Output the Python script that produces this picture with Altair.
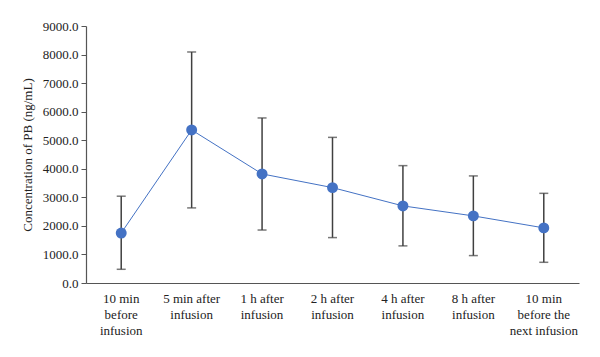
import altair as alt
import pandas as pd

categories = [
    "10 min|before|infusion",
    "5 min after|infusion",
    "1 h after|infusion",
    "2 h after|infusion",
    "4 h after|infusion",
    "8 h after|infusion",
    "10 min|before the|next infusion",
]
means = [1750, 5360, 3820, 3340, 2700, 2350, 1930]
upper = [3040, 8090, 5780, 5100, 4110, 3750, 3140]
lower = [480, 2630, 1855, 1590, 1300, 960, 725]
y_ticks = [0, 1000, 2000, 3000, 4000, 5000, 6000, 7000, 8000, 9000]

df = pd.DataFrame({"cat": categories, "mean": means, "hi": upper, "lo": lower})

font = "Liberation Serif"
xscale = alt.Scale(paddingInner=0, paddingOuter=0)
yscale = alt.Scale(domain=[0, 9000], nice=False)

x_axis = alt.Axis(labelAngle=0, ticks=False,
                  labelExpr="split(datum.label, '|')",
                  labelPadding=9, labelLineHeight=16, labelLimit=0,
                  labelOverlap=False, labelFont=font, labelFontSize=13,
                  labelColor="#222222", domainColor="#555555", domainWidth=1.2)
y_axis = alt.Axis(values=y_ticks, format=".1f", grid=False,
                  labelOverlap=False, tickSize=5, labelFont=font, labelFontSize=13,
                  labelColor="#222222", domainColor="#555555", tickColor="#555555",
                  domainWidth=1.2, labelPadding=3,
                  title="Concentration of PB (ng/mL)", titlePadding=8,
                  titleFont=font, titleFontSize=13, titleFontWeight="normal",
                  titleColor="#222222")

X = alt.X("cat:N", sort=categories, title=None, scale=xscale, axis=x_axis)

def Y(field):
    return alt.Y(field, type="quantitative", scale=yscale, axis=y_axis,
                 title="Concentration of PB (ng/mL)")

base = alt.Chart(df)

rules = base.mark_rule(color="#404040", strokeWidth=1.5).encode(
    x=X, y=Y("lo"), y2="hi:Q")
cap_hi = base.mark_tick(color="#404040", thickness=1.5, size=9, orient="horizontal").encode(
    x=X, y=Y("hi"))
cap_lo = base.mark_tick(color="#404040", thickness=1.5, size=9, orient="horizontal").encode(
    x=X, y=Y("lo"))
line = base.mark_line(color="#4472C4", strokeWidth=1).encode(
    x=X, y=Y("mean"))
pts = base.mark_point(filled=True, color="#4472C4", size=120, opacity=1).encode(
    x=X, y=Y("mean"))

chart = alt.layer(rules, cap_hi, cap_lo, line, pts).properties(
    width=493, height=257,
    autosize=alt.AutoSizeParams(type="none"),
    padding={"left": 78, "top": 18, "right": 13, "bottom": 60},
    background="white",
).configure_view(stroke=None)

chart.save("out.html", embed_options={"renderer": "svg", "actions": False})
